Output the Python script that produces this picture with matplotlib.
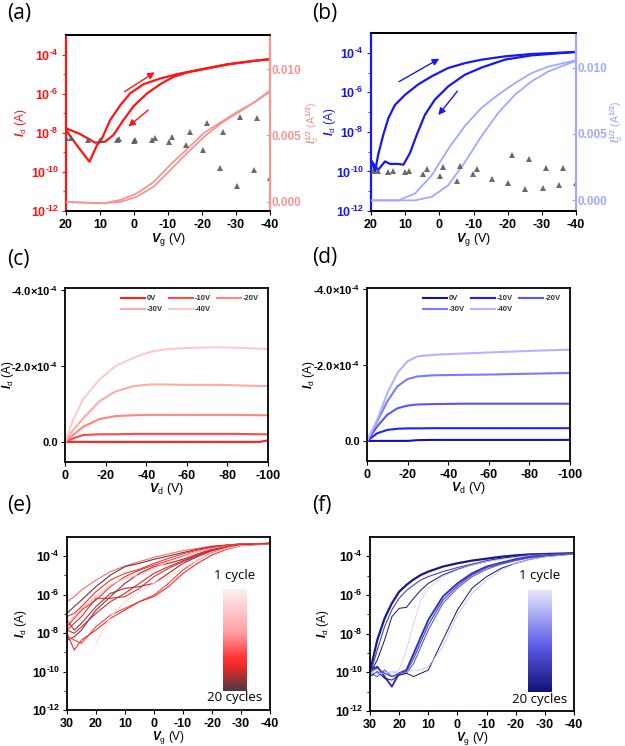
"""Transfer / output curves of the two OFET devices (red and blue), six panels."""

import numpy as np
import matplotlib
matplotlib.use("Agg")
import matplotlib.pyplot as plt
from matplotlib.colors import LinearSegmentedColormap
from matplotlib.ticker import NullFormatter

plt.rcParams.update({
    "font.family": "Liberation Sans",
    "font.weight": "bold",
    "font.size": 9,
    "mathtext.fontset": "custom",
    "mathtext.rm": "Liberation Sans:bold",
    "mathtext.it": "Liberation Sans:italic:bold",
    "mathtext.bf": "Liberation Sans:bold",
    "mathtext.default": "rm",
    "axes.unicode_minus": False,
    "axes.linewidth": 1.3,
    "xtick.major.size": 3,
    "ytick.major.size": 3,
    "ytick.minor.size": 2,
    "xtick.major.pad": 2.5,
    "ytick.major.pad": 2,
})

RED = "#ff1414"
PINK = "#f29696"
BLUE = "#1818f0"
LBLUE = "#a3a8ff"
TRI = "#5a5a5a"

# --------------------------------------------------------------------------- #
# (a) red device transfer curve                                               #
# --------------------------------------------------------------------------- #
A_VG_LEFT = [20, 16.8, 13.1, 10.9, 9.4, 7.0, 4.0, 1.1, -2.9, -7.8, -12.7, -19.6, -27.5, -35.4, -40]
A_ID_LEFT = [1.38e-8, 2.3e-9, 3.3e-10, 2.3e-9, 5.2e-9, 4.5e-8, 2.6e-7, 1.05e-6, 3.1e-6,
             6.0e-6, 1.0e-5, 1.74e-5, 3.2e-5, 4.8e-5, 5.8e-5]
A_VG_RIGHT = [20, 15.9, 11.4, 8.5, 6.0, 3.1, 0.1, -3.9, -7.8, -11.7, -16, -19.6, -27.5, -35.4, -40]
A_ID_RIGHT = [1.7e-8, 8.7e-9, 3.1e-9, 3.5e-9, 7.8e-9, 4.5e-8, 2.3e-7, 1.05e-6, 3.1e-6,
              7.4e-6, 1.26e-5, 1.66e-5, 3.1e-5, 4.8e-5, 5.8e-5]
A_SQ_VG = [20, 9.0, 4.0, -0.9, -5.8, -10.7, -15.7, -20.6, -25.5, -30.5, -35.4, -40]
A_SQ_1 = [0.0, -0.0001, 0.00015, 0.00065, 0.0015, 0.0028, 0.0040, 0.0052, 0.0060, 0.0068, 0.0075, 0.0083]
A_SQ_2 = [0.0, -0.0001, 0.0, 0.0004, 0.00115, 0.0024, 0.0037, 0.0049, 0.0059, 0.0067, 0.0075, 0.0084]
A_TRI_VG = [20, 18.5, 13.4, 10, 5.0, 4.3, 0.1, -0.4, -5.3, -6.3, -10.2, -11.2, -15.2, -16.5,
            -20.4, -21.4, -25.2, -26.3, -30.4, -31.2, -35.4, -36.2, -40]
A_TRI_Y = [0.00480, 0.00484, 0.00466, 0.00466, 0.00466, 0.00471, 0.00459, 0.00466, 0.00466,
           0.00479, 0.00453, 0.00491, 0.00429, 0.00524, 0.00391, 0.00592, 0.00253, 0.00524,
           0.00123, 0.00641, 0.00241, 0.00629, 0.00183]

# --------------------------------------------------------------------------- #
# (b) blue device transfer curve                                              #
# --------------------------------------------------------------------------- #
B_VG_LEFT = [19.8, 18.8, 17.9, 16.4, 14.9, 13.0, 10.0, 6.2, 2.2, -2.6, -7.5, -12.4, -19.2, -27.0, -40]
B_ID_LEFT = [3.2e-10, 1.0e-10, 7.1e-10, 7.2e-9, 5.0e-8, 2.3e-7, 7.6e-7, 2.5e-6, 6.5e-6,
             1.7e-5, 3.0e-5, 4.5e-5, 6.6e-5, 8.7e-5, 1.1e-4]
B_VG_RIGHT = [19.8, 17.9, 15.9, 14.4, 12.0, 10.5, 8.6, 6.6, 4.2, 1.3, -2.6, -7.5, -12.4, -19.2, -27.0, -40]
B_ID_RIGHT = [3.2e-10, 1.2e-10, 3.2e-10, 2.4e-10, 2.4e-10, 2.2e-10, 8.5e-10, 7.2e-9, 7.4e-8,
              4.3e-7, 2.0e-6, 7.8e-6, 1.8e-5, 4.5e-5, 7.4e-5, 1.1e-4]
B_SQ_VG_1 = [19.8, 12.0, 7.1, 2.2, -2.6, -7.5, -12.4, -17.3, -22.2, -27.0, -31.9, -40]
B_SQ_1 = [0.0, 0.0, 0.00052, 0.00189, 0.00387, 0.00561, 0.00698, 0.00797, 0.00884, 0.00958, 0.01007, 0.01055]
B_SQ_VG_2 = [19.8, 7.1, 2.2, -2.6, -7.5, -12.4, -17.3, -22.2, -27.0, -31.9, -36.8, -40]
B_SQ_2 = [0.0, 0.0, 0.00027, 0.00114, 0.00288, 0.00486, 0.0066, 0.00797, 0.00896, 0.0097, 0.0102, 0.0105]
B_TRI_VG = [19.3, 17.9, 14.9, 13.7, 10.0, 8.8, 4.7, 3.7, -0.2, -1.2, -5.1, -6.0, -9.9, -10.9,
            -15.3, -20.2, -21.2, -25.1, -26.2, -30.3, -31.2, -35.1, -36.1, -39.9]
B_TRI_Y = [0.00218, 0.00218, 0.00211, 0.00218, 0.00211, 0.00223, 0.00199, 0.00236, 0.00186,
           0.00248, 0.00149, 0.00261, 0.00199, 0.00236, 0.00162, 0.00129, 0.00343, 0.00082,
           0.00310, 0.00095, 0.00243, 0.00112, 0.00243, 0.00129]

# --------------------------------------------------------------------------- #
# (c), (d) output curves                                                      #
# --------------------------------------------------------------------------- #
VG_LABELS = ["0V", "-10V", "-20V", "-30V", "-40V"]
C_VD = [0, -4, -9, -17, -25, -34, -42, -50, -60, -75, -83, -96, -100]
C_ID = [
    [0, 0, 0, 0, 0, 0, 0, 0, 0, 0, 0, 0, -0.04e-4],
    [0, -0.09e-4, -0.18e-4, -0.20e-4, -0.20e-4, -0.21e-4, -0.21e-4, -0.21e-4, -0.21e-4,
     -0.21e-4, -0.21e-4, -0.20e-4, -0.20e-4],
    [0, -0.18e-4, -0.40e-4, -0.60e-4, -0.68e-4, -0.70e-4, -0.71e-4, -0.71e-4, -0.71e-4,
     -0.71e-4, -0.71e-4, -0.70e-4, -0.70e-4],
    [0, -0.31e-4, -0.62e-4, -1.07e-4, -1.33e-4, -1.47e-4, -1.51e-4, -1.51e-4, -1.50e-4,
     -1.50e-4, -1.49e-4, -1.47e-4, -1.47e-4],
    [0, -0.58e-4, -1.13e-4, -1.64e-4, -2.00e-4, -2.22e-4, -2.37e-4, -2.44e-4, -2.47e-4,
     -2.49e-4, -2.48e-4, -2.45e-4, -2.44e-4],
]
D_VD = [0, -5, -10, -15, -20, -25, -33, -46, -62, -79, -100]
D_ID = [
    [0, 0, 0, 0, 0, -0.02e-4, -0.026e-4, -0.026e-4, -0.026e-4, -0.026e-4, -0.026e-4],
    [0, -0.20e-4, -0.29e-4, -0.32e-4, -0.33e-4, -0.33e-4, -0.335e-4, -0.335e-4, -0.335e-4,
     -0.335e-4, -0.335e-4],
    [0, -0.38e-4, -0.69e-4, -0.86e-4, -0.93e-4, -0.96e-4, -0.97e-4, -0.98e-4, -0.98e-4,
     -0.98e-4, -0.98e-4],
    [0, -0.51e-4, -1.04e-4, -1.44e-4, -1.63e-4, -1.70e-4, -1.73e-4, -1.74e-4, -1.75e-4,
     -1.77e-4, -1.79e-4],
    [0, -0.555e-4, -1.26e-4, -1.79e-4, -2.10e-4, -2.23e-4, -2.27e-4, -2.30e-4, -2.335e-4,
     -2.37e-4, -2.405e-4],
]
C_COLORS = ["#ff1e1e", "#ff4a4a", "#ff8585", "#ffa9a9", "#ffcaca"]
D_COLORS = ["#1313a6", "#2020ff", "#5656ff", "#7a7aff", "#b4b4ff"]

# --------------------------------------------------------------------------- #
# (e), (f) 20 cycles, log10(Id) read per curve                               #
# --------------------------------------------------------------------------- #
E_VG = [30, 27.5, 25, 20, 15, 10, 5, 0, -5, -10, -15, -20, -25, -30, -40]
E_LOG = [
    [-6.36, -6.10, -5.76, -5.24, -4.80, -4.51, -4.28, -4.06, -3.88, -3.71, -3.59, -3.47, -3.42, -3.36, -3.33],
    [-6.97, -6.62, -6.28, -5.58, -4.98, -4.54, -4.37, -4.16, -3.99, -3.81, -3.64, -3.50, -3.42, -3.36, -3.33],
    [-7.67, -7.23, -6.80, -6.28, -5.58, -5.06, -4.72, -4.46, -4.23, -3.99, -3.76, -3.59, -3.47, -3.38, -3.33],
    [-8.36, -8.19, -7.84, -6.80, -6.10, -5.41, -4.89, -4.54, -4.37, -4.16, -3.88, -3.64, -3.50, -3.40, -3.33],
    [-7.84, -7.49, -7.14, -6.19, -6.19, -6.10, -5.67, -5.06, -4.63, -4.28, -3.99, -3.71, -3.54, -3.42, -3.35],
    [-8.19, -8.36, -8.53, -7.67, -7.06, -6.71, -6.36, -6.02, -5.41, -4.72, -4.20, -3.81, -3.59, -3.43, -3.35],
    [-8.01, -8.88, -8.36, -7.84, -7.23, -6.80, -6.36, -6.10, -5.58, -4.89, -4.37, -3.94, -3.64, -3.45, -3.36],
    [-7.32, -7.84, -7.49, -6.62, -5.93, -5.67, -5.58, -5.41, -4.89, -4.37, -4.02, -3.71, -3.50, -3.40, -3.33],
    [-7.49, -7.14, -6.71, -6.10, -5.50, -5.15, -4.98, -4.63, -4.28, -4.02, -3.76, -3.59, -3.47, -3.38, -3.33],
    [np.nan, np.nan, np.nan, -8.53, -7.14, -6.36, -5.84, -5.41, -5.06, -4.63, -4.20, -3.85, -3.59, -3.43, -3.35],
    [-7.14, -6.97, -6.62, -5.84, -5.24, -4.89, -4.68, -4.37, -4.11, -3.88, -3.68, -3.54, -3.43, -3.36, -3.33],
    [-7.84, -8.01, -7.67, -6.97, -6.36, -5.93, -5.41, -4.89, -4.54, -4.23, -3.94, -3.68, -3.50, -3.40, -3.35],
]
E_SHADE = [0.45, 0.05, 0.30, 0.10, 0.25, 0.35, 0.28, 0.15, 0.70, 0.85, 0.32, 0.20]

F_VG = [30, 27.5, 25, 22.5, 20, 17.5, 15, 12.5, 10, 5, 0, -5, -10, -15, -20, -25, -30, -40]
F_LOG = [
    [-9.96, -8.33, -7.21, -6.43, -5.83, -5.48, -5.19, -4.96, -4.79, -4.53, -4.36, -4.22, -4.12, -4.02, -3.95, -3.90, -3.88, -3.84],
    [-10.14, -8.84, -7.64, -6.77, -6.17, -5.77, -5.48, -5.22, -5.05, -4.79, -4.58, -4.40, -4.22, -4.10, -4.00, -3.93, -3.89, -3.84],
    [-10.05, -9.36, -8.33, -7.12, -6.69, -6.64, -6.17, -5.74, -5.40, -4.96, -4.67, -4.45, -4.27, -4.12, -4.02, -3.95, -3.89, -3.84],
    [-9.88, -10.05, -9.96, -10.05, -9.88, -8.84, -7.46, -6.26, -5.65, -5.05, -4.71, -4.45, -4.27, -4.15, -4.05, -3.96, -3.91, -3.86],
    [-9.88, -9.71, -10.22, -10.74, -10.05, -9.88, -9.02, -8.15, -7.29, -6.08, -5.40, -4.88, -4.53, -4.33, -4.15, -4.02, -3.95, -3.84],
    [-10.05, -10.22, -9.88, -10.22, -10.14, -10.05, -9.53, -8.67, -7.81, -6.43, -5.65, -5.05, -4.67, -4.41, -4.22, -4.07, -3.98, -3.86],
    [-10.22, -9.96, -10.31, -10.40, -10.14, -10.05, -10.22, -10.05, -9.88, -8.33, -6.77, -5.65, -5.05, -4.62, -4.36, -4.15, -4.02, -3.88],
    [-9.96, -10.05, -10.05, -9.96, -10.05, -9.96, -9.88, -9.88, -9.71, -8.67, -7.03, -5.91, -5.22, -4.71, -4.36, -4.15, -4.02, -3.88],
    [-9.96, -9.79, -10.05, -10.22, -10.05, -9.96, -9.27, -8.41, -7.55, -6.26, -5.53, -4.96, -4.58, -4.36, -4.19, -4.05, -3.96, -3.86],
]
F_SHADE = [0.05, 0.30, 0.0, 0.90, 0.20, 0.45, 0.0, 0.85, 0.35]
F_WIDTH = [1.6, 0.8, 0.7, 0.6, 1.4, 0.8, 0.7, 0.6, 0.9]

RED_CYCLES = LinearSegmentedColormap.from_list(
    "red_cycles", [(0, "#4b3a42"), (0.22, "#e02a2a"), (0.32, "#ff3232"),
                   (0.58, "#ffa0a6"), (1, "#fdf0f2")])
BLUE_CYCLES = LinearSegmentedColormap.from_list(
    "blue_cycles", [(0, "#12127a"), (0.45, "#5c5ce8"), (1, "#e6e6fb")])

W, H = 625, 746
ID_LABEL = r"$\mathit{I}_\mathregular{d}$ (A)"


def px_axes(fig, left, top, right, bottom):
    return fig.add_axes([left / W, 1 - bottom / H, (right - left) / W, (bottom - top) / H])


def place_ylabel(ax, box, x_px):
    """Anchor the y label at figure pixel column x_px (right edge for left labels,
    left edge for right-hand labels)."""
    ax.yaxis.set_label_coords((x_px - box[0]) / (box[2] - box[0]), 0.5)


def place_xlabel(ax, box, top_px):
    ax.xaxis.set_label_coords(0.5, (box[3] - top_px) / (box[3] - box[1]))


def log_yaxis(ax):
    ax.set_yscale("log")
    ax.set_ylim(1e-12, 1e-3)
    exps = list(range(-12, -3, 2))
    ax.set_yticks([10.0 ** e for e in exps])
    ax.set_yticklabels([r"10$^{\text{-}%d}$" % -e for e in exps])
    ax.set_yticks([10.0 ** e for e in range(-11, -3, 2)], minor=True)
    ax.yaxis.set_minor_formatter(NullFormatter())


def vg_xaxis(ax, start, size=9):
    ax.set_xlim(start, -40)
    ax.set_xticks(list(range(start, -41, -10)))
    ax.set_xlabel(r"$\mathit{V}_\mathregular{g}$ (V)", fontsize=size)


def transfer_panel(fig, box, c_main, c_sq, vl, il, vr, ir, sv1, s1, sv2, s2, tv, ty,
                   sq_lim, lab_left, lab_right):
    ax = px_axes(fig, *box)
    ax.plot(vl, il, color=c_main, lw=1.6)
    ax.plot(vr, ir, color=c_main, lw=1.6)
    log_yaxis(ax)
    vg_xaxis(ax, 20)
    place_xlabel(ax, box, 231)
    ax.tick_params(axis="y", which="both", colors=c_main)
    ax.spines["left"].set_color(c_main)
    ax.spines["left"].set_linewidth(1.6)
    ax.spines["right"].set_visible(False)
    ax.set_ylabel(ID_LABEL, color=c_main, fontsize=8.5)
    place_ylabel(ax, box, lab_left)

    ax2 = ax.twinx()
    ax2.plot(sv1, s1, color=c_sq, lw=1.3)
    ax2.plot(sv2, s2, color=c_sq, lw=1.3)
    ax2.plot(tv, ty, "^", color=TRI, ms=4, mew=0, alpha=0.9)
    ax2.set_ylim(*sq_lim)
    ax2.set_yticks([0.0, 0.005, 0.010])
    ax2.set_yticklabels(["0.000", "0.005", "0.010"])
    ax2.tick_params(axis="y", colors=c_sq, direction="in", length=3, pad=1,
                    labelsize=8.5)
    ax2.spines["right"].set_color(c_sq)
    ax2.spines["right"].set_linewidth(1.6)
    ax2.spines["left"].set_visible(False)
    ax2.set_ylabel(r"$\mathit{I}_\mathregular{d}^{1/2}$ (A$^{1/2}$)", color=c_sq,
                   fontsize=7.5)
    place_ylabel(ax2, box, lab_right)
    return ax


def output_panel(fig, box, vd, curves, colors, ylim, lab_x):
    ax = px_axes(fig, *box)
    lines = []
    for ids, col, lab in zip(curves, colors, VG_LABELS):
        ln, = ax.plot(vd, ids, color=col, lw=1.5, label=lab)
        lines.append(ln)
    ax.set_xlim(0, -100)
    ax.set_ylim(*ylim)
    ax.set_xticks([0, -20, -40, -60, -80, -100])
    ax.set_yticks([-4e-4, -2e-4, 0])
    ax.set_yticklabels([r"-4.0$\times$10$^{\text{-}4}$", r"-2.0$\times$10$^{\text{-}4}$", "0.0"])
    ax.tick_params(axis="y", labelsize=8)
    ax.set_xlabel(r"$\mathit{V}_\mathregular{d}$ (V)", fontsize=9)
    place_xlabel(ax, box, box[3] + 19)
    ax.set_ylabel(ID_LABEL, fontsize=8.5)
    place_ylabel(ax, box, lab_x)
    # legend filled row by row: 0V -10V -20V / -30V -40V
    order = [0, 3, 1, 4, 2]
    ax.legend([lines[i] for i in order], [VG_LABELS[i] for i in order], ncol=3,
              loc="upper right", bbox_to_anchor=(0.99, 1.0), frameon=False,
              fontsize=5.5, handlelength=3.2, handletextpad=0.2, columnspacing=0.8,
              labelspacing=0.5, borderpad=0.4, labelcolor="#333333")
    return ax


def cycle_panel(fig, box, vg, logs, shades, widths, cmap, cbar_box, lab_x):
    ax = px_axes(fig, *box)
    for lg, sh, lw in zip(logs, shades, widths):
        ax.plot(vg, 10.0 ** np.array(lg), color=cmap(sh), lw=lw)
    log_yaxis(ax)
    vg_xaxis(ax, 30, size=8.5)
    place_xlabel(ax, box, box[3] + 19)
    ax.set_ylabel(ID_LABEL, fontsize=8.5)
    place_ylabel(ax, box, lab_x)

    cax = px_axes(fig, *cbar_box)
    cax.imshow(np.linspace(1, 0, 256)[:, None], cmap=cmap, aspect="auto")
    cax.axis("off")
    cx = (cbar_box[0] + cbar_box[2]) / 2 / W
    fig.text(cx, 1 - (cbar_box[1] - 14) / H, "1 cycle", ha="center", va="center",
             fontsize=9.5, fontweight="normal", family="Open Sans")
    fig.text(cx, 1 - (cbar_box[3] + 7) / H, "20 cycles", ha="center", va="center",
             fontsize=9.5, fontweight="normal", family="Open Sans")
    return ax


def main():
    fig = plt.figure(figsize=(W / 100, H / 100), dpi=100)

    ax_a = transfer_panel(fig, (66, 35, 270, 211), RED, PINK, A_VG_LEFT, A_ID_LEFT,
                          A_VG_RIGHT, A_ID_RIGHT, A_SQ_VG, A_SQ_1, A_SQ_VG, A_SQ_2,
                          A_TRI_VG, A_TRI_Y, (-0.00068, 0.01256), 29, 304)
    arrow = dict(arrowstyle="-|>", color=RED, lw=1.0, mutation_scale=10)
    ax_a.annotate("", xy=(-6.8, 1.48e-5), xytext=(3.5, 1.05e-6), arrowprops=arrow)
    ax_a.annotate("", xy=(2.3, 1.7e-8), xytext=(-4.8, 1.78e-7), arrowprops=arrow)

    ax_b = transfer_panel(fig, (371, 33, 576, 211), BLUE, LBLUE, B_VG_LEFT, B_ID_LEFT,
                          B_VG_RIGHT, B_ID_RIGHT, B_SQ_VG_1, B_SQ_1, B_SQ_VG_2, B_SQ_2,
                          B_TRI_VG, B_TRI_Y, (-0.0008, 0.0126), 338, 608)
    arrow = dict(arrowstyle="-|>", color=BLUE, lw=1.0, mutation_scale=10)
    ax_b.annotate("", xy=(-0.7, 5.9e-5), xytext=(12.5, 2.95e-6), arrowprops=arrow)
    ax_b.annotate("", xy=(0.8, 5.5e-8), xytext=(-5.8, 1.48e-6), arrowprops=arrow)

    output_panel(fig, (65, 288, 268, 462), C_VD, C_ID, C_COLORS, (0.53e-4, -4.05e-4), 16)
    output_panel(fig, (367, 288, 570, 461), D_VD, D_ID, D_COLORS, (0.53e-4, -4.03e-4), 317)

    cycle_panel(fig, (67, 537, 270, 710), E_VG, E_LOG, E_SHADE, [0.8] * len(E_LOG),
                RED_CYCLES, (223, 589, 247, 691), 29)
    cycle_panel(fig, (370, 537, 574, 711), F_VG, F_LOG, F_SHADE, F_WIDTH,
                BLUE_CYCLES, (528, 590, 552, 692), 331)

    for lab, x, y in [("(a)", 7, 14), ("(b)", 312, 14), ("(c)", 7, 259),
                      ("(d)", 312, 257), ("(e)", 7, 505), ("(f)", 312, 505)]:
        fig.text(x / W, 1 - y / H, lab, fontsize=15, fontweight="normal",
                 family="Open Sans", va="center", ha="left")

    fig.savefig("out.png", dpi=100)
    plt.close(fig)


if __name__ == "__main__":
    main()
